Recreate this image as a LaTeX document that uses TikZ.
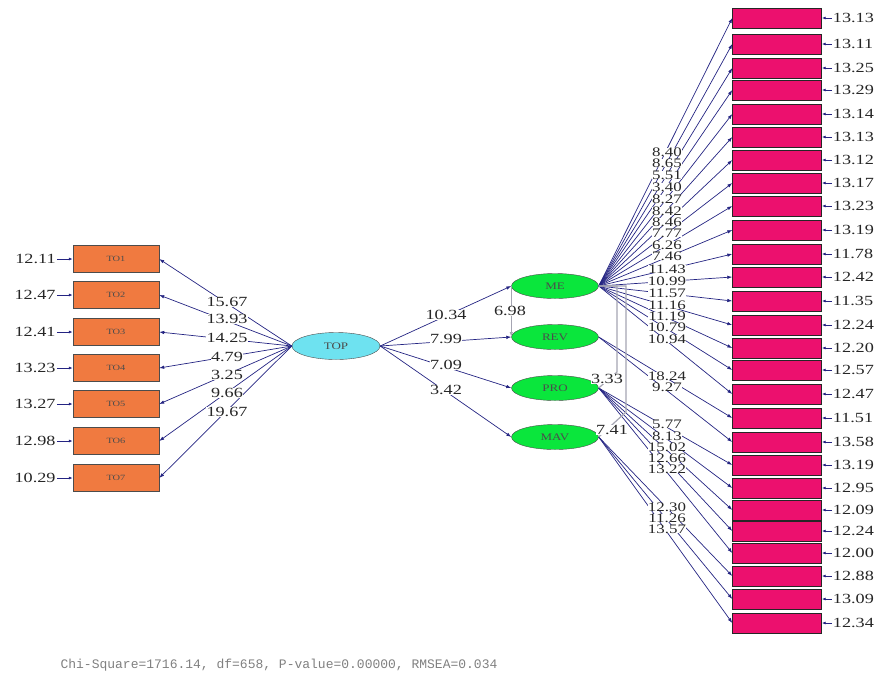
\documentclass[tikz,border=0pt]{standalone}
\usepackage{fontspec}
\setmainfont{Liberation Serif}
\newfontfamily\pathfont[FakeStretch=1.3]{Liberation Serif}
\newfontfamily\fitfont{Liberation Mono}
\usepackage{tikz}
\usetikzlibrary{positioning, arrows.meta, shapes.geometric}
\definecolor{TOrange}{RGB}{240,122,64}
\definecolor{ItemPink}{RGB}{236,16,110}
\definecolor{TopCyan}{RGB}{110,226,240}
\definecolor{LatGreen}{RGB}{10,230,60}
\definecolor{PathNavy}{RGB}{36,36,130}
\definecolor{CovGray}{RGB}{165,165,178}

% loadings: latent / item / label y / estimate
\def\loadings{ME/1/152/8.40, ME/2/163/8.65, ME/3/175/5.51, ME/4/187/3.40,
  ME/5/199/8.27, ME/6/211/8.42, ME/7/222/8.46, ME/8/233/7.77, ME/9/245/6.26,
  ME/10/256/7.46, ME/11/269/11.43, ME/12/281/10.99, ME/13/293/11.57,
  ME/14/305/11.16, ME/15/316/11.19, ME/16/327/10.79, ME/17/339/10.94,
  REV/18/376/18.24, REV/19/387/9.27,
  PRO/20/424/5.77, PRO/21/436/8.13, PRO/22/447/15.02, PRO/23/458/12.66, PRO/24/469/13.22,
  MAV/25/507/12.30, MAV/26/518/11.26, MAV/27/529/13.57}

\begin{document}
\begin{tikzpicture}[
    x=1pt, y=-1pt,
    font=\pathfont\fontsize{14}{14}\selectfont,
    >={Latex[length=5pt,width=3.5pt]},
    obsbox/.style={
        draw=black!70,
        fill=TOrange,
        minimum width=86pt,
        minimum height=27pt,
        inner sep=0pt,
        text=black!70,
        font=\pathfont\fontsize{8}{8}\selectfont
    },
    itembox/.style={
        draw=black!85,
        fill=ItemPink,
        minimum width=89pt,
        minimum height=20pt,
        inner sep=0pt
    },
    topell/.style={
        ellipse,
        draw=black!70,
        fill=TopCyan,
        minimum width=88pt,
        minimum height=27pt,
        inner sep=0pt,
        text=black!70,
        font=\pathfont\fontsize{10}{10}\selectfont
    },
    latell/.style={
        ellipse,
        draw=black!70,
        fill=LatGreen,
        minimum width=87pt,
        minimum height=25pt,
        inner sep=0pt,
        text=black!70,
        font=\pathfont\fontsize{10}{10}\selectfont
    },
    arrow/.style={
        ->,
        PathNavy,
        line width=0.7pt
    },
    errarrow/.style={
        -{Latex[length=4pt,width=3pt]},
        PathNavy,
        line width=0.9pt
    },
    cov/.style={
        CovGray,
        line width=1.2pt
    },
    est/.style={
        fill=white,
        inner sep=0.3pt,
        text=black!85
    },
    stacked/.style={
        est,
        inner sep=0pt,
        font=\pathfont\fontsize{13}{13}\selectfont
    },
    err/.style={
        inner sep=1pt,
        text=black!85
    }
]

\useasboundingbox (0,0) rectangle (882,675);

% Second-order factor and first-order factors
\node[topell] (TOP) at (336,346) {TOP};
\node[latell] (ME)  at (555,286) {ME};
\node[latell] (REV) at (555,337) {REV};
\node[latell] (PRO) at (555,388) {PRO};
\node[latell] (MAV) at (555,437) {MAV};

% TOP indicators on the left
\foreach \i/\yy/\e in {1/259/12.11, 2/295/12.47, 3/332/12.41, 4/368/13.23,
                       5/404/13.27, 6/441/12.98, 7/478/10.29} {
    \node[obsbox] (t\i) at (116,\yy) {TO\i};
    \node[err, left=16pt of t\i] (te\i) {\e};
    \draw[errarrow] (te\i) -- (t\i);
    \draw[arrow] (TOP.west) -- (t\i.east);
}
\foreach \i/\ly/\v in {1/302/15.67, 2/319/13.93, 3/338/14.25, 4/357/4.79,
                       5/375/3.25, 6/393/9.66, 7/412/19.67}
    \node[est] (tl\i) at (227,\ly) {\v};

% Items on the right
\foreach \i/\yy/\e in {1/18/13.13, 2/44/13.11, 3/68/13.25, 4/90/13.29, 5/114/13.14,
    6/137/13.13, 7/160/13.12, 8/183/13.17, 9/206/13.23, 10/230/13.19,
    11/254/11.78, 12/277/12.42, 13/301/11.35, 14/325/12.24, 15/348/12.20,
    16/370/12.57, 17/394/12.47, 18/418/11.51, 19/442/13.58, 20/465/13.19,
    21/488/12.95, 22/510/12.09, 23/531/12.24, 24/553/12.00, 25/576/12.88,
    26/599/13.09, 27/623/12.34} {
    \node[itembox] (y\i) at (777,\yy) {};
    \node[err, right=10pt of y\i] (ye\i) {\e};
    \draw[errarrow] (ye\i) -- (y\i);
}

% Loadings: lines first, then estimates on top
\foreach \s/\i/\ly/\v in \loadings
    \draw[arrow] (\s.east) -- (y\i.west);
\foreach \s/\i/\ly/\v in \loadings
    \node[stacked] (yl\i) at (667,\ly) {\v};

% Second-order paths
\foreach \s/\ly/\v in {ME/315/10.34, REV/339/7.99, PRO/365/7.09, MAV/390/3.42} {
    \draw[arrow] (TOP.east) -- (\s.west);
    \node[est] (g\s) at (446,\ly) {\v};
}

% Correlated errors between factors
\coordinate (k1) at (617,372);
\coordinate (k2) at (626,412);
\draw[cov, ->] (ME.west) -- (REV.west);
\node[est] (c1) at (510,311) {6.98};
\draw[cov] (ME.east) -| (k1) -- (PRO.east);
\draw[cov] (ME.east) -| (k2) -- (MAV.east);
\node[est] (c2) at (607,379) {3.33};
\node[est] (c3) at (612,430) {7.41};

% Fit statistics
\node[text=black!50, font=\fitfont\fontsize{13}{13}\selectfont] (fit) at (279,665)
    {Chi-Square=1716.14, df=658, P-value=0.00000, RMSEA=0.034};

\end{tikzpicture}
\end{document}
